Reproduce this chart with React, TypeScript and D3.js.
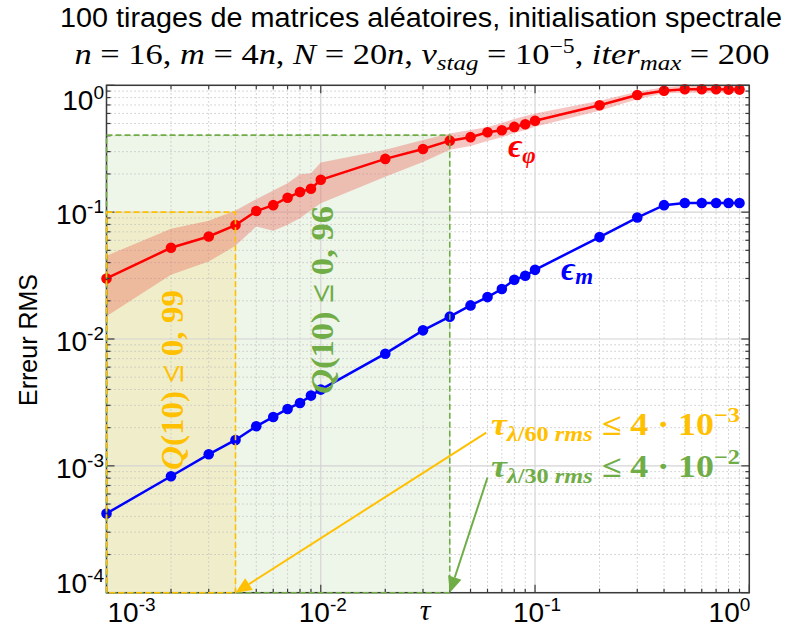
import React from "react";
import * as d3 from "d3";

// ---- Data ----
const tau = [
  0.001, 0.002, 0.003, 0.004, 0.005, 0.006, 0.007, 0.008, 0.009,
  0.01, 0.02, 0.03, 0.04, 0.05, 0.06, 0.07, 0.08, 0.09,
  0.1, 0.2, 0.3, 0.4, 0.5, 0.6, 0.7, 0.8, 0.9,
];
const epsPhi = [
  0.030, 0.0524, 0.0643, 0.0791, 0.102, 0.1135, 0.130, 0.144, 0.153,
  0.180, 0.263, 0.315, 0.366, 0.390, 0.426, 0.442, 0.470, 0.493,
  0.526, 0.696, 0.839, 0.907, 0.930, 0.930, 0.930, 0.925, 0.925,
];
const epsPhiUpper = [
  0.0453, 0.0739, 0.0854, 0.103, 0.1265, 0.148, 0.169, 0.199, 0.203,
  0.246, 0.31, 0.37, 0.417, 0.445, 0.47, 0.505, 0.543, 0.573,
  0.60, 0.756, 0.89, 0.965, 0.99, 0.99, 0.99, 0.99, 0.99,
];
const epsPhiLower = [
  0.0151, 0.0321, 0.0408, 0.0543, 0.077, 0.0712, 0.0794, 0.0897, 0.104,
  0.1177, 0.19, 0.249, 0.31, 0.333, 0.364, 0.39, 0.42, 0.445,
  0.472, 0.63, 0.776, 0.865, 0.875, 0.875, 0.875, 0.872, 0.872,
];
const epsM = [
  4.21e-4, 8.28e-4, 1.233e-3, 1.60e-3, 2.05e-3, 2.43e-3, 2.81e-3, 3.13e-3, 3.58e-3,
  3.99e-3, 7.66e-3, 0.0117, 0.0150, 0.0184, 0.0214, 0.0248, 0.0293, 0.0315,
  0.0351, 0.0636, 0.0907, 0.1135, 0.118, 0.118, 0.118, 0.118, 0.118,
];
const xDecades = [1e-3, 1e-2, 1e-1, 1];
const yDecades = [1e-4, 1e-3, 1e-2, 1e-1, 1];
const xTickExp = ["-3", "-2", "-1", "0"];
const yTickExp = ["-4", "-3", "-2", "-1", "0"];
const minorMult = [2, 3, 4, 5, 6, 7, 8, 9];

// Shaded regions (data units)
const greenRegion = { x0: 1e-3, x1: 0.04, y0: 1e-4, y1: 0.405 };
const yellowRegion = { x0: 1e-3, x1: 0.004, y0: 1e-4, y1: 0.1 };
// Annotation anchors (data units)
const yellowArrow = { from: [0.0592, 1.83e-3], to: [0.004, 1e-4] };
const greenArrow = { from: [0.0600, 8.1e-4], to: [0.04, 1e-4] };

const W = 795, H = 630;
const L = 106.5, R = 749.3, T = 85.3, B = 592.7;

const RED = "#ff0000", BLUE = "#0000ff", YEL = "#ffc000", GRN = "#70ad47";

function Arrow({ x1, y1, x2, y2, color }: any) {
  const ang = Math.atan2(y2 - y1, x2 - x1);
  const len = 16, half = 7;
  const bx = x2 - len * Math.cos(ang), by = y2 - len * Math.sin(ang);
  const px = -Math.sin(ang) * half, py = Math.cos(ang) * half;
  return (
    <g>
      <line x1={x1} y1={y1} x2={bx} y2={by} stroke={color} strokeWidth={2} />
      <polygon points={`${x2},${y2} ${bx + px},${by + py} ${bx - px},${by - py}`} fill={color} />
    </g>
  );
}

export default function App() {
  const x = d3.scaleLog().domain([1e-3, 1]).range([L, R]);
  const y = d3.scaleLog().domain([1e-4, 1]).range([B, T]);

  const xMinor: number[] = [];
  xDecades.slice(0, -1).forEach((d) => minorMult.forEach((m) => xMinor.push(d * m)));
  const yMinor: number[] = [];
  yDecades.slice(0, -1).forEach((d) => minorMult.forEach((m) => yMinor.push(d * m)));

  const line = d3.line<number>().x((_, i) => x(tau[i])).y((d) => y(d));
  const area = d3
    .area<number>()
    .x((_, i) => x(tau[i]))
    .y0((_, i) => y(epsPhiLower[i]))
    .y1((d) => y(d));

  const serif = "'Liberation Serif', 'DejaVu Serif', serif";
  const sans = "'Liberation Sans', Arial, sans-serif";

  const ya = [x(yellowArrow.from[0]), y(yellowArrow.from[1]), x(yellowArrow.to[0]), y(yellowArrow.to[1])];
  const ga = [x(greenArrow.from[0]), y(greenArrow.from[1]), x(greenArrow.to[0]), y(greenArrow.to[1])];

  return (
    <svg width={W} height={H} style={{ position: "absolute", left: 0, top: 0, background: "#fff" }}>
      {/* shaded regions */}
      <rect x={x(greenRegion.x0)} y={y(greenRegion.y1)} width={x(greenRegion.x1) - x(greenRegion.x0)}
        height={y(greenRegion.y0) - y(greenRegion.y1)} fill={GRN} fillOpacity={0.12} />
      <rect x={x(yellowRegion.x0)} y={y(yellowRegion.y1)} width={x(yellowRegion.x1) - x(yellowRegion.x0)}
        height={y(yellowRegion.y0) - y(yellowRegion.y1)} fill={YEL} fillOpacity={0.13} />

      {/* grid */}
      <g stroke="#bdbdbd" strokeWidth={1} strokeDasharray="1.2,2.8">
        {xMinor.map((v) => <line key={"gx" + v} x1={x(v)} x2={x(v)} y1={T} y2={B} />)}
        {yMinor.map((v) => <line key={"gy" + v} x1={L} x2={R} y1={y(v)} y2={y(v)} />)}
      </g>
      <g stroke="#d4d4d4" strokeWidth={1.2}>
        {xDecades.map((v) => <line key={"Gx" + v} x1={x(v)} x2={x(v)} y1={T} y2={B} />)}
        {yDecades.map((v) => <line key={"Gy" + v} x1={L} x2={R} y1={y(v)} y2={y(v)} />)}
      </g>

      {/* band */}
      <path d={area(epsPhiUpper) || ""} fill="#e8584c" fillOpacity={0.35} />

      {/* lines */}
      <path d={line(epsPhi) || ""} fill="none" stroke={RED} strokeWidth={2.5} />
      {epsPhi.map((v, i) => <circle key={"r" + i} cx={x(tau[i])} cy={y(v)} r={5.3} fill={RED} />)}
      <path d={line(epsM) || ""} fill="none" stroke={BLUE} strokeWidth={2.5} />
      {epsM.map((v, i) => <circle key={"b" + i} cx={x(tau[i])} cy={y(v)} r={5.3} fill={BLUE} />)}

      {/* frame and ticks */}
      <rect x={L} y={T} width={R - L} height={B - T} fill="none" stroke="#3a3a3a" strokeWidth={1.5} />
      <g stroke="#3a3a3a" strokeWidth={1.2}>
        {xDecades.map((v) => (
          <g key={"tx" + v}>
            <line x1={x(v)} x2={x(v)} y1={B} y2={B - 8} />
            <line x1={x(v)} x2={x(v)} y1={T} y2={T + 8} />
          </g>
        ))}
        {xMinor.map((v) => (
          <g key={"tmx" + v}>
            <line x1={x(v)} x2={x(v)} y1={B} y2={B - 4} />
            <line x1={x(v)} x2={x(v)} y1={T} y2={T + 4} />
          </g>
        ))}
        {yDecades.map((v) => (
          <g key={"ty" + v}>
            <line x1={L} x2={L + 8} y1={y(v)} y2={y(v)} />
            <line x1={R} x2={R - 8} y1={y(v)} y2={y(v)} />
          </g>
        ))}
        {yMinor.map((v) => (
          <g key={"tmy" + v}>
            <line x1={L} x2={L + 4} y1={y(v)} y2={y(v)} />
            <line x1={R} x2={R - 4} y1={y(v)} y2={y(v)} />
          </g>
        ))}
      </g>

      {/* dashed region borders */}
      <rect x={x(greenRegion.x0)} y={y(greenRegion.y1)} width={x(greenRegion.x1) - x(greenRegion.x0)}
        height={y(greenRegion.y0) - y(greenRegion.y1)} fill="none" stroke={GRN} strokeWidth={1.6} strokeDasharray="6,3" />
      <rect x={x(yellowRegion.x0)} y={y(yellowRegion.y1)} width={x(yellowRegion.x1) - x(yellowRegion.x0)}
        height={y(yellowRegion.y0) - y(yellowRegion.y1)} fill="none" stroke={YEL} strokeWidth={1.6} strokeDasharray="6,3" />

      {/* axis tick labels */}
      <g fontFamily={sans} fill="#000" fontSize={28}>
        {yDecades.map((v, i) => {
          const off = i === yDecades.length - 1 ? 25 : i === 0 ? 0 : 12;
          return (
            <text key={"yl" + v} x={104} y={y(v) + off} textAnchor="end">
              10<tspan fontSize={19} dy={-11}>{yTickExp[i]}</tspan>
            </text>
          );
        })}
        {xDecades.map((v, i) => {
          const anchor = i === 0 ? "start" : i === xDecades.length - 1 ? "end" : "middle";
          const xx = i === 0 ? x(v) + 1 : i === xDecades.length - 1 ? x(v) + 1 : x(v) + 2;
          return (
            <text key={"xl" + v} x={xx} y={622} textAnchor={anchor}>
              10<tspan fontSize={19} dy={-11}>{xTickExp[i]}</tspan>
            </text>
          );
        })}
      </g>
      <text x={425} y={620} fontFamily={serif} fontStyle="italic" fontSize={30} textAnchor="middle">τ</text>
      <text transform="translate(37,340) rotate(-90)" fontFamily={sans} fontSize={25} textAnchor="middle">Erreur RMS</text>

      {/* title */}
      <text x={421} y={27} fontFamily={sans} fontSize={27} textAnchor="middle" textLength={722} lengthAdjust="spacingAndGlyphs">
        100 tirages de matrices aléatoires, initialisation spectrale
      </text>
      <text x={422} y={64} fontFamily={serif} fontSize={29} textAnchor="middle" textLength={695} lengthAdjust="spacingAndGlyphs">
        <tspan fontStyle="italic">n</tspan> = 16, <tspan fontStyle="italic">m</tspan> = 4<tspan fontStyle="italic">n</tspan>,{" "}
        <tspan fontStyle="italic">N</tspan> = 20<tspan fontStyle="italic">n</tspan>, <tspan fontStyle="italic">v</tspan>
        <tspan fontStyle="italic" fontSize={21} dy={6}>stag</tspan>
        <tspan dy={-6}> = 10</tspan>
        <tspan fontSize={20} dy={-11}>−5</tspan>
        <tspan dy={11}>, </tspan>
        <tspan fontStyle="italic">iter</tspan>
        <tspan fontStyle="italic" fontSize={21} dy={6}>max</tspan>
        <tspan dy={-6}> = 200</tspan>
      </text>

      {/* series labels */}
      <text x={508} y={157} fill={RED} fontFamily={serif} fontWeight="bold" fontStyle="italic" fontSize={33}>
        ϵ<tspan fontSize={23} dy={6}>φ</tspan>
      </text>
      <text x={561} y={280} fill={BLUE} fontFamily={serif} fontWeight="bold" fontStyle="italic" fontSize={33}>
        ϵ<tspan fontSize={23} dy={4}>m</tspan>
      </text>

      {/* rotated Q annotations */}
      <text transform="translate(183,380) rotate(-90)" fill={YEL} fontFamily={serif} fontWeight="bold" fontSize={32}
        textAnchor="middle" textLength={180} lengthAdjust="spacingAndGlyphs">
        <tspan fontStyle="italic">Q</tspan>(10) ≤ 0, 99
      </text>
      <text transform="translate(333,300) rotate(-90)" fill={GRN} fontFamily={serif} fontWeight="bold" fontSize={32}
        textAnchor="middle" textLength={188} lengthAdjust="spacingAndGlyphs">
        <tspan fontStyle="italic">Q</tspan>(10) ≤ 0, 96
      </text>

      {/* arrows */}
      <Arrow x1={ya[0]} y1={ya[1]} x2={ya[2]} y2={ya[3]} color={YEL} />
      <Arrow x1={ga[0]} y1={ga[1]} x2={ga[2]} y2={ga[3]} color={GRN} />

      {/* tau annotations */}
      <text x={491} y={435} fill={YEL} fontFamily={serif} fontWeight="bold" fontSize={31} textLength={249} lengthAdjust="spacingAndGlyphs">
        <tspan fontStyle="italic">τ</tspan>
        <tspan fontSize={21} dy={6}><tspan fontStyle="italic">λ</tspan>/60 <tspan fontStyle="italic">rms</tspan></tspan>
        <tspan dy={-6}> ≤ 4 · 10</tspan>
        <tspan fontSize={21} dy={-13}>−3</tspan>
      </text>
      <text x={491} y={477} fill={GRN} fontFamily={serif} fontWeight="bold" fontSize={31} textLength={249} lengthAdjust="spacingAndGlyphs">
        <tspan fontStyle="italic">τ</tspan>
        <tspan fontSize={21} dy={6}><tspan fontStyle="italic">λ</tspan>/30 <tspan fontStyle="italic">rms</tspan></tspan>
        <tspan dy={-6}> ≤ 4 · 10</tspan>
        <tspan fontSize={21} dy={-13}>−2</tspan>
      </text>
    </svg>
  );
}
